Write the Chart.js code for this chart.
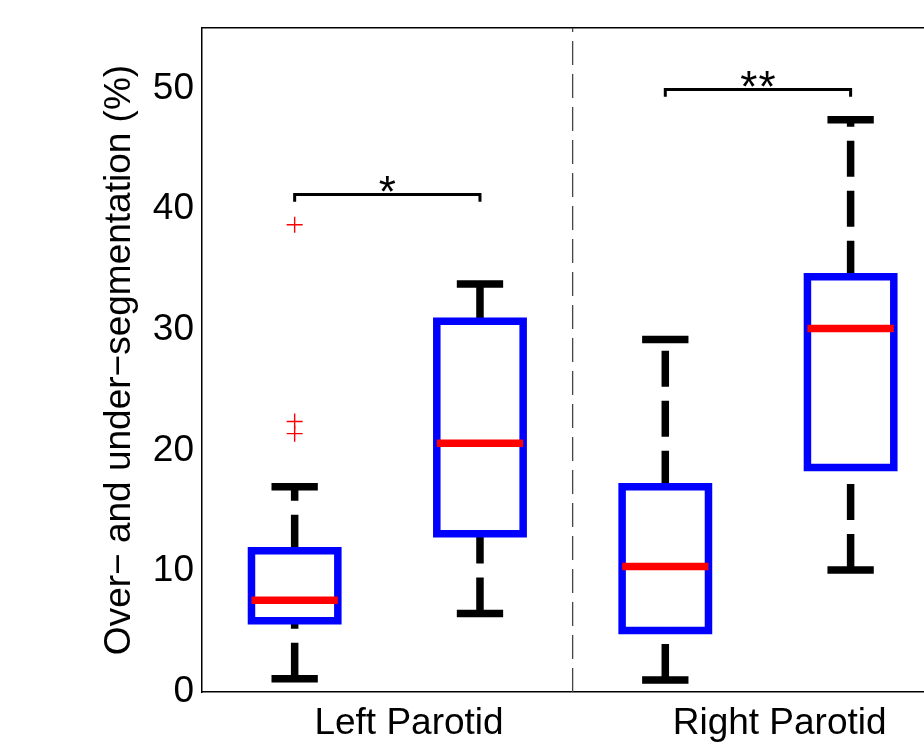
<!DOCTYPE html>
<html><head><meta charset="utf-8">
<script src="https://cdn.jsdelivr.net/npm/chart.js@4/dist/chart.umd.min.js"></script>
<style>html,body{margin:0;padding:0;background:#fff;overflow:hidden}canvas{display:block}</style>
</head><body>
<canvas id="c" width="924" height="746"></canvas>
<script>
// ---- data ----
const groupLabels = ['Left Parotid', 'Right Parotid'];
const boxPositions = [1, 2, 3, 4];
const lowerWhisker = [1.1, 6.5, 1.0, 10.1];
const q1 = [5.9, 13.1, 5.1, 18.6];
const medians = [7.6, 20.6, 10.4, 30.1];
const q3 = [11.7, 30.7, 17.0, 34.4];
const upperWhisker = [17.0, 33.8, 29.2, 47.4];
const outlierBox = [1, 1, 1];
const outlierValues = [38.7, 22.4, 21.4];
const sigFrom = [1, 3];
const sigTo = [2, 4];
const sigLevels = [41.2, 49.9];
const sigLabels = ['*', '**'];
const yTicks = [0, 10, 20, 30, 40, 50];
const dividerAt = 2.5;

// ---- style constants ----
const FONT = '"Liberation Sans", Arial, Helvetica, sans-serif';
const FS = 37;
const STAR_FS = 44;
const BOX_HALF = 0.233, CAP_HALF = 0.125, LW = 7.5;
const BRACKET_DROP = 0.6, LABEL_SHIFT = 0.117;
const X_MIN = 0.5, X_MAX = 4.396, Y_MIN = 0, Y_MAX = 55;

Chart.defaults.color = '#000';
Chart.defaults.font.family = FONT;

const gap = p => ({x: p, y: null});
const boxPts = [], medPts = [], capPts = [], upPts = [], loPts = [];
boxPositions.forEach((p, i) => {
  boxPts.push({x: p, y: q1[i]}, {x: p + BOX_HALF, y: q1[i]}, {x: p + BOX_HALF, y: q3[i]},
              {x: p - BOX_HALF, y: q3[i]}, {x: p - BOX_HALF, y: q1[i]}, {x: p, y: q1[i]}, gap(p));
  medPts.push({x: p - BOX_HALF, y: medians[i]}, {x: p + BOX_HALF, y: medians[i]}, gap(p));
  capPts.push({x: p - CAP_HALF, y: upperWhisker[i]}, {x: p + CAP_HALF, y: upperWhisker[i]}, gap(p),
              {x: p - CAP_HALF, y: lowerWhisker[i]}, {x: p + CAP_HALF, y: lowerWhisker[i]}, gap(p));
  upPts.push({x: p, y: q3[i]}, {x: p, y: upperWhisker[i]}, gap(p));
  loPts.push({x: p, y: lowerWhisker[i]}, {x: p, y: q1[i]}, gap(p));
});
const outPts = outlierValues.map((v, i) => ({x: boxPositions[outlierBox[i] - 1], y: v}));
const brPts = [];
sigLevels.forEach((lv, i) => {
  brPts.push({x: sigFrom[i], y: lv - BRACKET_DROP}, {x: sigFrom[i], y: lv}, {x: sigTo[i], y: lv},
             {x: sigTo[i], y: lv - BRACKET_DROP}, gap(sigTo[i]));
});
const groupCenters = groupLabels.map((_, g) => (boxPositions[2 * g] + boxPositions[2 * g + 1]) / 2);

const lineBase = {pointRadius: 0, borderCapStyle: 'butt', borderJoinStyle: 'miter', tension: 0, spanGaps: false};

const sigPlugin = {
  id: 'sig',
  afterDatasetsDraw(chart) {
    const {ctx, scales: {x, y}} = chart;
    ctx.save();
    ctx.font = STAR_FS + 'px ' + FONT;
    ctx.fillStyle = '#000';
    ctx.textAlign = 'center';
    ctx.textBaseline = 'alphabetic';
    sigLabels.forEach((lab, i) => {
      const multi = lab.length > 1;
      ctx.letterSpacing = multi ? '1px' : '0px';
      const px = x.getPixelForValue((sigFrom[i] + sigTo[i]) / 2) + (multi ? 0.5 : 0);
      const py = y.getPixelForValue(sigLevels[i]);
      ctx.fillText(lab, px, py - 13 + 0.58 * STAR_FS);
    });
    ctx.restore();
  }
};

const noPad = s => { s.paddingLeft = 0; s.paddingRight = 0; s.paddingTop = 0; s.paddingBottom = 0; };

new Chart(document.getElementById('c'), {
  type: 'line',
  data: {
    datasets: [
      {data: [{x: dividerAt, y: Y_MIN}, {x: dividerAt, y: Y_MAX}], borderColor: '#444', borderWidth: 1.3,
       borderDash: [24, 9], order: 8, ...lineBase},
      {data: upPts, borderColor: '#000', borderWidth: LW, borderDash: [36, 14], order: 7, ...lineBase},
      {data: loPts, borderColor: '#000', borderWidth: LW, borderDash: [36, 14], order: 6, ...lineBase},
      {data: boxPts, borderColor: '#0000ff', borderWidth: LW, order: 5, ...lineBase},
      {data: capPts, borderColor: '#000', borderWidth: LW, order: 4, ...lineBase},
      {data: medPts, borderColor: '#ff0000', borderWidth: LW, order: 3, ...lineBase},
      {data: outPts, showLine: false, pointStyle: 'cross', pointRadius: 8, pointBorderWidth: 1.4,
       pointBorderColor: '#ff0000', pointBackgroundColor: '#ff0000', order: 2},
      {data: brPts, borderColor: '#000', borderWidth: 3, order: 1, ...lineBase}
    ]
  },
  options: {
    responsive: false,
    animation: false,
    events: [],
    layout: {autoPadding: false, padding: {top: 28, left: 0, right: 0, bottom: 0}},
    plugins: {legend: {display: false}, tooltip: {enabled: false}},
    scales: {
      x: {
        type: 'linear', position: 'bottom', min: X_MIN, max: X_MAX,
        grid: {display: false, drawTicks: false},
        border: {display: true, color: '#000', width: 1.5},
        afterBuildTicks: s => { s.ticks = groupCenters.map(c => ({value: c + LABEL_SHIFT})); },
        afterFit: s => { s.height = 54; noPad(s); },
        ticks: {autoSkip: false, maxRotation: 0, padding: 10, font: {size: FS, family: FONT},
                callback: (v, i) => groupLabels[i]}
      },
      xTop: {
        type: 'linear', position: 'top', min: X_MIN, max: X_MAX,
        grid: {display: false, drawTicks: false},
        border: {display: true, color: '#000', width: 1.5},
        ticks: {display: false},
        afterFit: s => { s.height = 0; noPad(s); }
      },
      y: {
        type: 'linear', position: 'left', min: Y_MIN, max: Y_MAX,
        grid: {display: false, drawTicks: false},
        border: {display: true, color: '#000', width: 1.5},
        afterBuildTicks: s => { s.ticks = yTicks.map(v => ({value: v})); },
        afterFit: s => { s.width = 202; noPad(s); },
        ticks: {padding: 8, font: {size: FS, family: FONT}},
        title: {display: true, text: 'Over\u2212 and under\u2212segmentation (%)',
                font: {size: FS, family: FONT}, padding: {top: 98, bottom: 0}, color: '#000'}
      }
    }
  },
  plugins: [sigPlugin]
});
</script>
</body></html>
